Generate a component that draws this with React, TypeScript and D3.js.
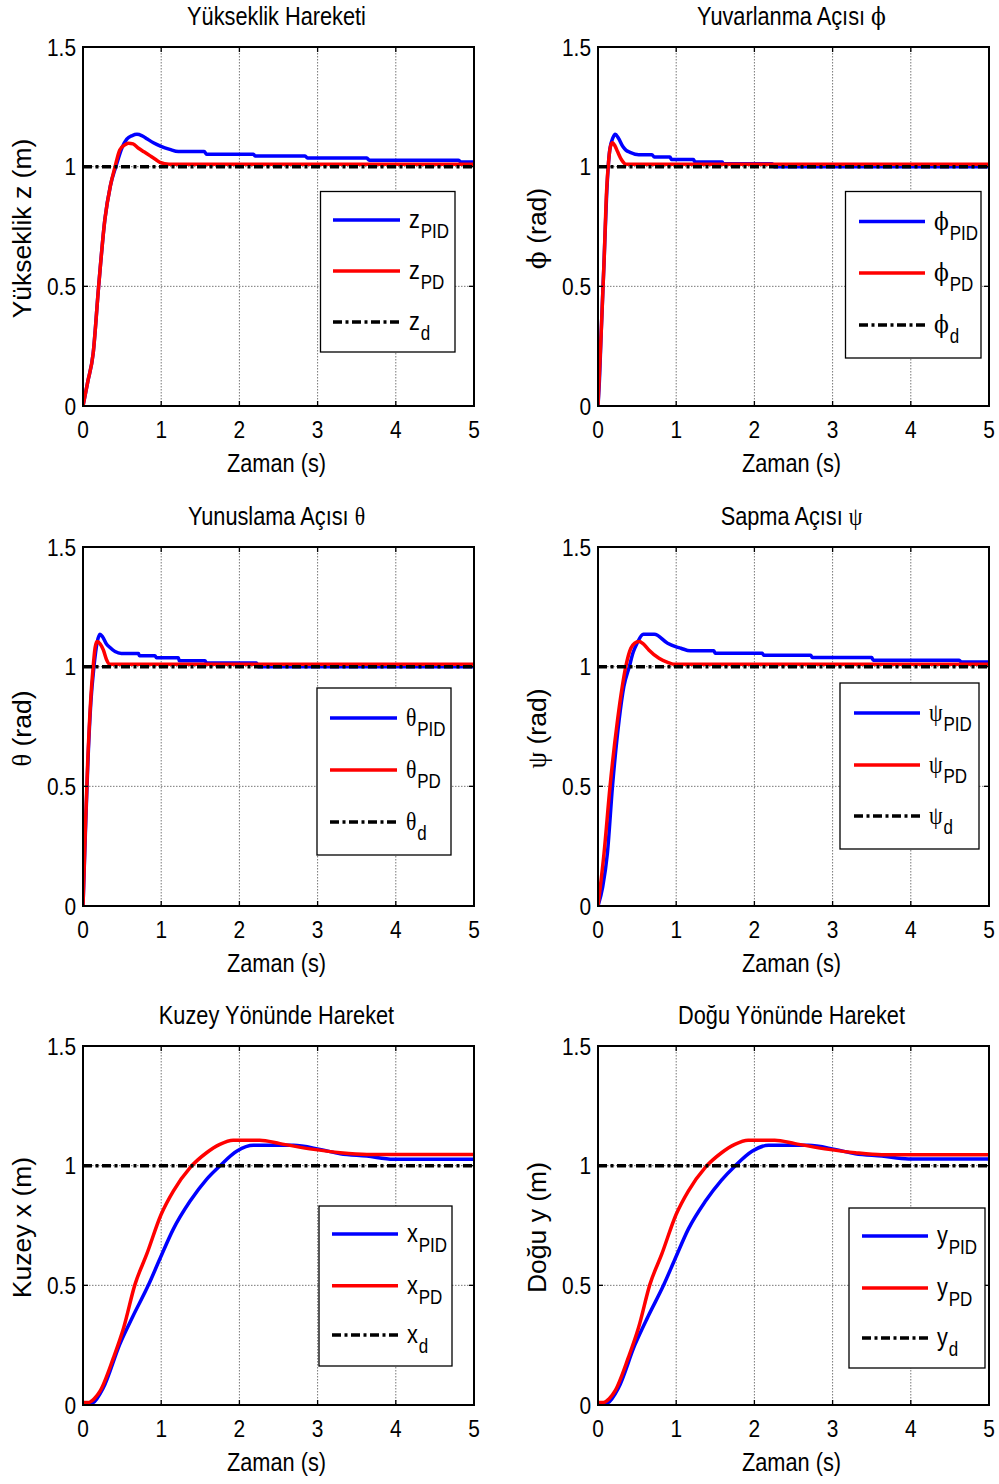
import React from "react";
import * as d3 from "d3";

// ---------- tick values ----------
const xTicks = [0, 1, 2, 3, 4, 5];
const xTickLabels = ["0", "1", "2", "3", "4", "5"];
const yTicks = [0, 0.5, 1, 1.5];
const yTickLabels = ["0", "0.5", "1", "1.5"];

// ---------- desired reference ----------
const refT = [0, 5];
const refV = [1, 1];

// ---------- Yükseklik z ----------
const zPidT = [0, 0.06, 0.13, 0.2, 0.28, 0.35, 0.42, 0.5, 0.56, 0.63, 0.69, 0.75, 0.81, 0.9, 0.99, 1.11, 1.22, 1.55, 1.58, 2.18, 2.2, 2.84, 2.87, 3.63, 3.66, 4.8, 4.83, 5];
const zPidV = [0, 0.1, 0.22, 0.5, 0.78, 0.92, 1.0, 1.08, 1.115, 1.13, 1.135, 1.13, 1.118, 1.1, 1.086, 1.072, 1.063, 1.063, 1.052, 1.052, 1.045, 1.045, 1.036, 1.036, 1.027, 1.027, 1.02, 1.02];
const zPdT = [0, 0.06, 0.13, 0.2, 0.28, 0.35, 0.41, 0.47, 0.53, 0.58, 0.64, 0.71, 0.78, 0.86, 0.93, 0.985, 1.1, 5];
const zPdV = [0, 0.1, 0.22, 0.5, 0.78, 0.92, 1.0, 1.07, 1.09, 1.098, 1.095, 1.077, 1.062, 1.045, 1.03, 1.018, 1.01, 1.01];

// ---------- Yuvarlanma phi ----------
const phiPidT = [0, 0.02, 0.04, 0.077, 0.11, 0.15, 0.19, 0.22, 0.26, 0.32, 0.36, 0.41, 0.52, 0.69, 0.72, 0.92, 0.94, 1.22, 1.24, 1.59, 1.6, 2.23, 2.25, 5];
const phiPidV = [0, 0.12, 0.3, 0.6, 0.88, 1.07, 1.12, 1.135, 1.12, 1.083, 1.068, 1.06, 1.05, 1.05, 1.04, 1.04, 1.03, 1.03, 1.02, 1.02, 1.012, 1.012, 1.0, 1.0];
const phiPdT = [0, 0.04, 0.077, 0.11, 0.135, 0.16, 0.185, 0.22, 0.25, 0.29, 0.32, 0.35, 5];
const phiPdV = [0, 0.3, 0.6, 0.9, 1.02, 1.085, 1.1, 1.085, 1.063, 1.035, 1.02, 1.01, 1.01];

// ---------- Yunuslama theta ----------
const thPidT = [0, 0.03, 0.06, 0.1, 0.14, 0.18, 0.217, 0.25, 0.3, 0.345, 0.41, 0.49, 0.71, 0.72, 0.92, 0.94, 1.22, 1.23, 1.56, 1.58, 2.22, 2.24, 5];
const thPidV = [0, 0.3, 0.58, 0.85, 1.0, 1.1, 1.135, 1.125, 1.095, 1.08, 1.063, 1.055, 1.055, 1.046, 1.046, 1.037, 1.037, 1.025, 1.025, 1.015, 1.015, 1.0, 1.0];
const thPdT = [0, 0.03, 0.06, 0.1, 0.13, 0.155, 0.18, 0.22, 0.26, 0.3, 0.34, 5];
const thPdV = [0, 0.32, 0.6, 0.87, 1.0, 1.08, 1.105, 1.095, 1.07, 1.03, 1.01, 1.01];

// ---------- Sapma psi ----------
const psiPidT = [0, 0.06, 0.12, 0.185, 0.27, 0.33, 0.4, 0.45, 0.5, 0.58, 0.72, 0.89, 1.0, 1.06, 1.18, 1.48, 1.5, 2.1, 2.12, 2.72, 2.74, 3.5, 3.52, 4.62, 4.64, 5];
const psiPidV = [0, 0.08, 0.22, 0.5, 0.777, 0.916, 1.0, 1.06, 1.098, 1.135, 1.135, 1.098, 1.083, 1.077, 1.066, 1.066, 1.056, 1.056, 1.048, 1.048, 1.038, 1.038, 1.027, 1.027, 1.02, 1.02];
const psiPdT = [0, 0.077, 0.154, 0.25, 0.31, 0.355, 0.42, 0.47, 0.525, 0.58, 0.65, 0.78, 0.89, 0.97, 5];
const psiPdV = [0, 0.22, 0.5, 0.777, 0.916, 1.0, 1.077, 1.098, 1.105, 1.095, 1.07, 1.035, 1.018, 1.01, 1.01];

// ---------- Kuzey x ----------
const xPidT = [0, 0.13, 0.26, 0.47, 0.64, 0.835, 0.985, 1.155, 1.37, 1.58, 1.75, 1.97, 2.18, 2.69, 3.03, 3.29, 3.63, 3.97, 5];
const xPidV = [0, 0.01, 0.072, 0.254, 0.372, 0.5, 0.612, 0.735, 0.852, 0.943, 0.999, 1.061, 1.085, 1.085, 1.068, 1.05, 1.04, 1.027, 1.027];
const xPdT = [0, 0.07, 0.14, 0.22, 0.39, 0.52, 0.665, 0.815, 1.0, 1.155, 1.37, 1.58, 1.75, 1.92, 2.26, 2.52, 2.95, 3.29, 3.63, 5];
const xPdV = [0.01, 0.01, 0.025, 0.059, 0.198, 0.323, 0.504, 0.63, 0.797, 0.894, 0.992, 1.054, 1.089, 1.106, 1.106, 1.092, 1.068, 1.054, 1.047, 1.047];

// ---------- Doğu y ----------
const yPidT = [0, 0.13, 0.26, 0.47, 0.64, 0.835, 0.985, 1.155, 1.37, 1.58, 1.75, 1.97, 2.18, 2.69, 3.03, 3.29, 3.63, 3.97, 5];
const yPidV = [0, 0.01, 0.07, 0.25, 0.37, 0.498, 0.61, 0.735, 0.85, 0.94, 0.998, 1.06, 1.085, 1.085, 1.068, 1.05, 1.04, 1.028, 1.028];
const yPdT = [0, 0.07, 0.14, 0.22, 0.39, 0.52, 0.665, 0.815, 1.0, 1.155, 1.37, 1.58, 1.75, 1.92, 2.26, 2.52, 2.95, 3.29, 3.63, 5];
const yPdV = [0.01, 0.01, 0.025, 0.06, 0.2, 0.325, 0.505, 0.63, 0.797, 0.894, 0.992, 1.054, 1.089, 1.106, 1.106, 1.092, 1.068, 1.054, 1.046, 1.046];

// ---------- layout ----------
const W = 999;
const H = 1484;
const colLeft = [83, 598];
const rowTop = [47, 547, 1046];
const PW = 391;
const PH = 359;
const SANS = "'Liberation Sans', Arial, sans-serif";
const SERIF = "'DejaVu Serif', 'Liberation Serif', serif";
const SERIF2 = "'Liberation Serif', 'DejaVu Serif', serif";
const SX = 0.87;
const DASH = "9,3.5,3,3.5";

type Leg = { bx: number; by: number; bw: number; bh: number; ly: number[]; l0: number; l1: number };

const zip = (t: number[], v: number[]) => t.map((d, i) => [d, v[i]] as [number, number]);

function Sym({ s, greek }: { s: string; greek: string | null }) {
  return greek ? <tspan fontFamily={greek}>{s}</tspan> : <tspan>{s}</tspan>;
}

function Panel(props: {
  ci: number; ri: number; title: React.ReactNode; ylabel: React.ReactNode;
  sym: string; greek: string | null; pid: [number, number][]; pd: [number, number][]; leg: Leg; id: string;
}) {
  const { ci, ri, title, ylabel, sym, greek, pid, pd, leg, id } = props;
  const x0 = colLeft[ci];
  const y0 = rowTop[ri];
  const x = d3.scaleLinear().domain([0, 5]).range([x0, x0 + PW]);
  const y = d3.scaleLinear().domain([0, 1.5]).range([y0 + PH, y0]);
  const line = d3.line<[number, number]>().x((d) => x(d[0])).y((d) => y(d[1])).curve(d3.curveMonotoneX);
  const ref = zip(refT, refV);
  const tk = 5;
  const L = leg;
  const lx0 = x0 + L.bx + L.l0;
  const lx1 = x0 + L.bx + L.l1;
  const subs = ["PID", "PD", "d"];
  const legStyles = [
    { stroke: "#0000ff", dash: undefined as string | undefined },
    { stroke: "#ff0000", dash: undefined as string | undefined },
    { stroke: "#000000", dash: DASH },
  ];
  return (
    <g>
      <defs>
        <clipPath id={id}>
          <rect x={x0} y={y0} width={PW} height={PH} />
        </clipPath>
      </defs>
      <rect x={x0} y={y0} width={PW} height={PH} fill="#fff" />
      {/* grid */}
      {xTicks.slice(1, -1).map((t) => (
        <line key={"gx" + t} x1={x(t)} x2={x(t)} y1={y0} y2={y0 + PH} stroke="#777" strokeWidth={1} strokeDasharray="1.5,1.5" />
      ))}
      {yTicks.slice(1, -1).map((v) => (
        <line key={"gy" + v} x1={x0} x2={x0 + PW} y1={y(v)} y2={y(v)} stroke="#777" strokeWidth={1} strokeDasharray="1.5,1.5" />
      ))}
      {/* data */}
      <g clipPath={`url(#${id})`}>
        <path d={line(pid) || ""} fill="none" stroke="#0000ff" strokeWidth={3.5} strokeLinejoin="round" />
        <path d={line(pd) || ""} fill="none" stroke="#ff0000" strokeWidth={3.5} strokeLinejoin="round" />
        <path d={line(ref) || ""} fill="none" stroke="#000" strokeWidth={3.5} strokeDasharray={DASH} />
      </g>
      {/* ticks */}
      {xTicks.map((t) => (
        <g key={"tx" + t}>
          <line x1={x(t)} x2={x(t)} y1={y0 + PH} y2={y0 + PH - tk} stroke="#000" strokeWidth={1.3} />
          <line x1={x(t)} x2={x(t)} y1={y0} y2={y0 + tk} stroke="#000" strokeWidth={1.3} />
        </g>
      ))}
      {yTicks.map((v) => (
        <g key={"ty" + v}>
          <line x1={x0} x2={x0 + tk} y1={y(v)} y2={y(v)} stroke="#000" strokeWidth={1.3} />
          <line x1={x0 + PW} x2={x0 + PW - tk} y1={y(v)} y2={y(v)} stroke="#000" strokeWidth={1.3} />
        </g>
      ))}
      <rect x={x0} y={y0} width={PW} height={PH} fill="none" stroke="#000" strokeWidth={2} />
      {/* tick labels */}
      {xTicks.map((t, i) => (
        <text key={"lx" + t} transform={`translate(${x(t)},${y0 + PH + 32}) scale(${SX},1)`} textAnchor="middle" fontFamily={SANS} fontSize={24} fill="#000">
          {xTickLabels[i]}
        </text>
      ))}
      {yTicks.map((v, i) => (
        <text key={"ly" + v} transform={`translate(${x0 - 7},${y(v) + 8.5}) scale(${SX},1)`} textAnchor="end" fontFamily={SANS} fontSize={24} fill="#000">
          {yTickLabels[i]}
        </text>
      ))}
      {/* title */}
      <text transform={`translate(${x0 + PW / 2 - 2},${y0 - 22}) scale(${SX},1)`} textAnchor="middle" fontFamily={SANS} fontSize={25} fill="#000">
        {title}
      </text>
      {/* x label */}
      <text transform={`translate(${x0 + PW / 2 - 2},${y0 + PH + 66}) scale(${SX},1)`} textAnchor="middle" fontFamily={SANS} fontSize={25} fill="#000">
        Zaman (s)
      </text>
      {/* y label */}
      <text transform={`translate(${x0 - 52},${y0 + PH / 2 + 2}) rotate(-90)`} textAnchor="middle" fontFamily={SANS} fontSize={26.5} fill="#000">
        {ylabel}
      </text>
      {/* legend */}
      <rect x={x0 + L.bx} y={y0 + L.by} width={L.bw} height={L.bh} fill="#fff" stroke="#000" strokeWidth={1.3} />
      {L.ly.map((ly, i) => (
        <g key={"leg" + i}>
          <line x1={lx0} x2={lx1} y1={y0 + L.by + ly} y2={y0 + L.by + ly} stroke={legStyles[i].stroke} strokeWidth={3.5} strokeDasharray={legStyles[i].dash} />
          <text transform={`translate(${lx1 + 9},${y0 + L.by + ly + 8}) scale(${SX},1)`} fontFamily={SANS} fontSize={25} fill="#000">
            <Sym s={sym} greek={greek} />
            <tspan dy={10} fontSize={19.5} dx={1}>{subs[i]}</tspan>
          </text>
        </g>
      ))}
    </g>
  );
}

export default function App() {
  return (
    <svg width={W} height={H} viewBox={`0 0 ${W} ${H}`} style={{ position: "absolute", left: 0, top: 0, background: "#fff" }}>
      <rect x={0} y={0} width={W} height={H} fill="#fff" />
      <Panel id="c1" ci={0} ri={0} title="Yükseklik Hareketi" ylabel="Yükseklik z (m)" sym="z" greek={null}
        pid={zip(zPidT, zPidV)} pd={zip(zPdT, zPdV)}
        leg={{ bx: 237.5, by: 144.5, bw: 134.5, bh: 160.5, ly: [28.5, 79.5, 130.5], l0: 12.5, l1: 79.5 }} />
      <Panel id="c2" ci={1} ri={0} title={<>Yuvarlanma Açısı <tspan fontFamily={SERIF}>ϕ</tspan></>}
        ylabel={<><tspan fontFamily={SERIF}>ϕ</tspan>  (rad)</>} sym="ϕ" greek={SERIF}
        pid={zip(phiPidT, phiPidV)} pd={zip(phiPdT, phiPdV)}
        leg={{ bx: 247.5, by: 144.5, bw: 135.5, bh: 166.5, ly: [30, 81.5, 133.5], l0: 13.5, l1: 79.5 }} />
      <Panel id="c3" ci={0} ri={1} title={<>Yunuslama Açısı <tspan fontFamily={SERIF2}>θ</tspan></>}
        ylabel={<><tspan fontFamily={SERIF2}>θ</tspan> (rad)</>} sym="θ" greek={SERIF2}
        pid={zip(thPidT, thPidV)} pd={zip(thPdT, thPdV)}
        leg={{ bx: 234, by: 141, bw: 134, bh: 167, ly: [30, 82, 134], l0: 13, l1: 80 }} />
      <Panel id="c4" ci={1} ri={1} title={<>Sapma Açısı <tspan fontFamily={SERIF2}>ψ</tspan></>}
        ylabel={<><tspan fontFamily={SERIF2}>ψ</tspan> (rad)</>} sym="ψ" greek={SERIF2}
        pid={zip(psiPidT, psiPidV)} pd={zip(psiPdT, psiPdV)}
        leg={{ bx: 242, by: 136, bw: 139, bh: 166, ly: [30, 82, 133], l0: 14, l1: 80 }} />
      <Panel id="c5" ci={0} ri={2} title="Kuzey Yönünde Hareket" ylabel="Kuzey x (m)" sym="x" greek={null}
        pid={zip(xPidT, xPidV)} pd={zip(xPdT, xPdV)}
        leg={{ bx: 236, by: 160, bw: 133, bh: 160, ly: [28, 79.7, 129], l0: 13, l1: 79 }} />
      <Panel id="c6" ci={1} ri={2} title="Doğu Yönünde Hareket" ylabel="Doğu y (m)" sym="y" greek={null}
        pid={zip(yPidT, yPidV)} pd={zip(yPdT, yPdV)}
        leg={{ bx: 251, by: 162, bw: 136, bh: 160, ly: [28, 80, 130], l0: 13, l1: 79 }} />
    </svg>
  );
}
